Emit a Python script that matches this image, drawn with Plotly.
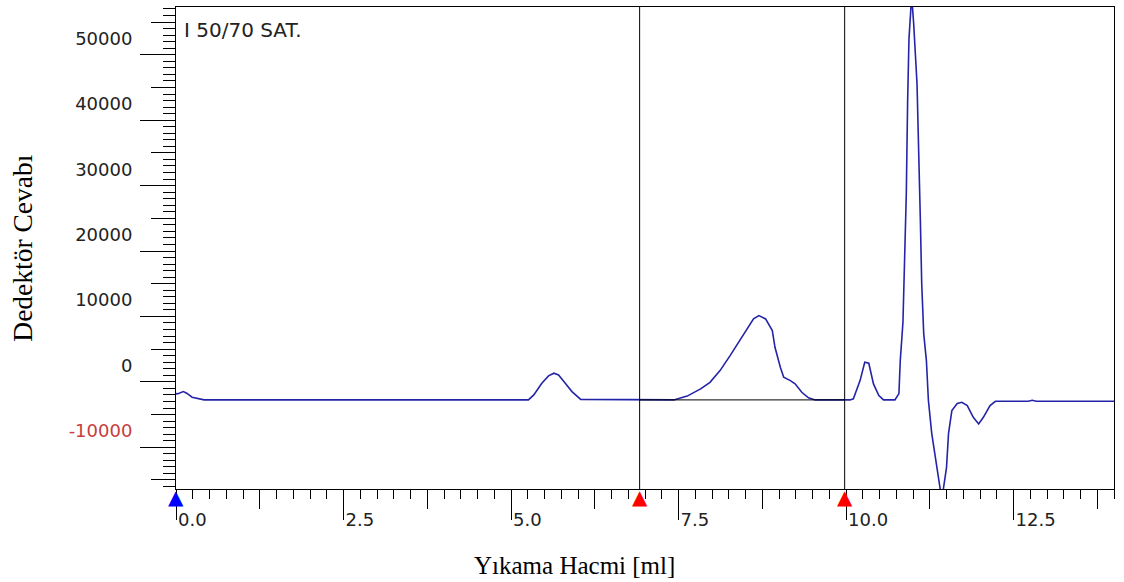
import plotly.graph_objects as go

# ---- data ----
volume_ml = [0.00, 0.02, 0.11, 0.16, 0.24, 0.36, 0.42,
             5.26, 5.34, 5.46, 5.56, 5.64, 5.71, 5.81, 5.91, 6.04,
             7.43, 7.63, 7.83, 7.97, 8.12, 8.27, 8.40, 8.52, 8.62, 8.70,
             8.80, 8.90, 8.94, 9.02, 9.07, 9.17, 9.24, 9.34, 9.44, 9.54,
             10.06, 10.11, 10.21, 10.28, 10.34, 10.41, 10.49, 10.56, 10.73,
             10.79, 10.81, 10.85, 10.87, 10.90, 10.92, 10.94, 10.98, 11.01,
             11.06, 11.08, 11.11, 11.13, 11.16, 11.20, 11.23, 11.28, 11.36,
             11.43, 11.50, 11.53, 11.58, 11.66, 11.73, 11.81, 11.90, 11.98,
             12.05, 12.15, 12.23, 12.72, 12.78, 12.84, 14.00]
response = [-4300, -4340, -3990, -4230, -4850, -5100, -5260,
            -5260, -4490, -2710, -1590, -1180, -1440, -2710, -3990, -5180,
            -5260, -4680, -3580, -2570, -780, 1510, 3540, 5590, 7120, 7630,
            7120, 5330, 2780, -280, -1800, -2310, -2810, -4100, -4950, -5260,
            -5260, -5100, -2310, 490, 340, -2810, -4600, -5260, -5260,
            -4300, 750, 6600, 13480, 26220, 40490, 49960, 56500, 52250,
            43080, 32390, 22150, 12520, 4870, 750, -5360, -10410, -15610,
            -20500, -15610, -10410, -6900, -5820, -5620, -6130, -7920, -8930,
            -7920, -6130, -5470, -5470, -5320, -5470, -5470]

blue_marker_ml = [0.0]
red_marker_ml = [6.92, 9.98]
baseline_response = [-5260, -5260]

x_tickvals = [0.0, 2.5, 5.0, 7.5, 10.0, 12.5]
x_ticktext = ["0.0", "2.5", "5.0", "7.5", "10.0", "12.5"]
y_tickvals = [50000, 40000, 30000, 20000, 10000, 0, -10000]
y_ticktext = ["50000", "40000", "30000", "20000", "10000", "0",
              '<span style="color:#c83c3c">-10000</span>']

x_range = [0.0, 14.0]
y_range = [-18880, 54800]

sample_label = "I 50/70 SAT."
x_title = "Yıkama Hacmi [ml]"
y_title = "Dedektör Cevabı"

LINE_BLUE = "#2424a8"
TICK_FONT = dict(family="DejaVu Sans", size=18, color="#222222")

fig = go.Figure()

fig.add_trace(go.Scatter(x=volume_ml, y=response, mode="lines",
                         line=dict(color=LINE_BLUE, width=1.6),
                         showlegend=False, hoverinfo="skip"))
fig.add_trace(go.Scatter(x=red_marker_ml, y=baseline_response, mode="lines",
                         line=dict(color="#000000", width=1),
                         showlegend=False, hoverinfo="skip"))
# dummy traces so the overlay tick axes are drawn
fig.add_trace(go.Scatter(x=[None], y=[None], xaxis="x2", yaxis="y2",
                         showlegend=False, hoverinfo="skip"))
fig.add_trace(go.Scatter(x=[None], y=[None], xaxis="x3", yaxis="y3",
                         showlegend=False, hoverinfo="skip"))

for xv in red_marker_ml:
    fig.add_shape(type="line", xref="x", yref="paper", x0=xv, x1=xv, y0=0, y1=1,
                  line=dict(color="#000000", width=1))

annotations = [
    dict(text=sample_label, xref="paper", yref="paper", x=0.006, y=0.952,
         xanchor="left", yanchor="middle", showarrow=False,
         font=dict(family="DejaVu Sans", size=20, color="#222222")),
    dict(text=x_title, xref="paper", yref="paper", x=0.4245, y=-0.158,
         xanchor="center", yanchor="middle", showarrow=False,
         font=dict(family="Liberation Serif", size=25, color="#000000")),
    dict(text=y_title, xref="paper", yref="paper", x=-0.1645, y=0.50,
         xanchor="center", yanchor="middle", showarrow=False, textangle=-90,
         font=dict(family="Liberation Serif", size=27.5, color="#000000")),
]
for xv, col in [(v, "#0000ff") for v in blue_marker_ml] + [(v, "#ff0000") for v in red_marker_ml]:
    annotations.append(dict(text="▲", xref="x", yref="paper", x=xv, y=-0.017,
                            xanchor="center", yanchor="middle", showarrow=False,
                            font=dict(family="DejaVu Sans", size=20, color=col)))

common_off = dict(showgrid=False, zeroline=False, showline=False, showticklabels=False)

fig.update_layout(
    width=1124, height=582,
    margin=dict(l=176, r=10, t=7, b=93),
    paper_bgcolor="white", plot_bgcolor="white",
    xaxis=dict(range=x_range, tickmode="array", tickvals=x_tickvals, ticktext=x_ticktext,
               ticks="outside", ticklen=19, tickwidth=1, tickcolor="black",
               ticklabelposition="outside right", ticklabelstandoff=14,
               ticklabelshift=1, tickfont=TICK_FONT,
               minor=dict(ticks="outside", dtick=0.25, tick0=0, ticklen=9,
                          tickwidth=1, tickcolor="black"),
               showline=True, linecolor="black", linewidth=1, mirror=True,
               showgrid=False, zeroline=False),
    xaxis2=dict(range=x_range, overlaying="x", anchor="y2", side="bottom",
                tickmode="linear", tick0=0, dtick=1.25, ticks="outside",
                ticklen=19, tickwidth=1, tickcolor="black", **common_off),
    xaxis3=dict(range=x_range, overlaying="x", anchor="y3", side="bottom",
                tickmode="linear", tick0=0, dtick=2.5, ticks="outside",
                ticklen=30, tickwidth=1, tickcolor="black", **common_off),
    yaxis=dict(range=y_range, tickmode="array", tickvals=y_tickvals, ticktext=y_ticktext,
               ticks="outside", ticklen=0, tickcolor="rgba(0,0,0,0)",
               ticklabelstandoff=39, tickfont=TICK_FONT,
               minor=dict(ticks="outside", dtick=1000, tick0=500, ticklen=12,
                          tickwidth=1, tickcolor="black"),
               showline=True, linecolor="black", linewidth=1, mirror=True,
               showgrid=False, zeroline=False),
    yaxis2=dict(range=y_range, overlaying="y", anchor="x2", side="left",
                tickmode="linear", tick0=-2500, dtick=10000, ticks="outside",
                ticklen=35, tickwidth=1, tickcolor="black", **common_off),
    yaxis3=dict(range=y_range, overlaying="y", anchor="x3", side="left",
                tickmode="linear", tick0=2500, dtick=10000, ticks="outside",
                ticklen=24, tickwidth=1, tickcolor="black", **common_off),
    annotations=annotations,
)

fig.write_html("out.html")
